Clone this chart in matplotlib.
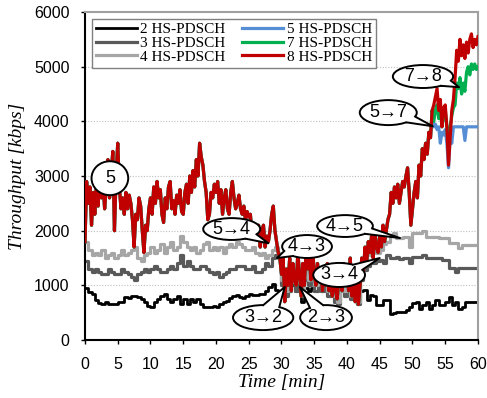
import math

import matplotlib
matplotlib.use("Agg")
import matplotlib.pyplot as plt
from matplotlib.patches import Ellipse, Polygon
from matplotlib.lines import Line2D

# ---- data (kbps) ----
# red / 8 HS-PDSCH, every 0.25 min from 0 to 60
red = [
    1800, 2900, 2500, 2800, 2100, 2700, 2300, 2850, 2450, 3000, 2600, 2900, 2400, 2800, 3300, 2600, 3050, 3450, 2000, 3000,
    3600, 2800, 2400, 2600, 2300, 2700, 2400, 2650, 2500, 2200, 1700, 2300, 2200, 2600, 2450, 2000, 1600, 2100, 2000, 2400,
    2600, 2300, 2800, 2500, 2900, 2600, 2750, 2300, 2150, 2600, 2400, 2800, 2900, 2400, 2550, 2300, 2650, 2500, 2750, 2350,
    2300, 2700, 2850, 2500, 3000, 2700, 3100, 2800, 3300, 3000, 3600, 3350, 3200, 2900, 2700, 2200, 2300, 2700, 2600, 2850,
    2700, 2900, 2500, 2750, 2300, 2600, 2750, 2400, 2300, 2700, 2900, 2600, 2400, 2500, 2650, 2400, 2300, 2450, 2200, 2350,
    2250, 2300, 1900, 2100, 2000, 1850, 2100, 1700, 2000, 2100, 1700, 1900, 1800, 2000, 2300, 2450, 2000, 1800, 1600, 1500,
    1200, 1500, 700, 1300, 1000, 1500, 900, 1400, 1100, 1000, 1600, 1200, 800, 1400, 1000, 1600, 1300, 1500, 1100, 1700,
    1200, 1000, 1400, 1100, 1300, 900, 1200, 1000, 1400, 900, 1100, 800, 1300, 900, 750, 1100, 1300, 900, 1400, 1000,
    1200, 900, 1500, 800, 1300, 700, 1100, 650, 1000, 1500, 1200, 1700, 1400, 1800, 1600, 1900, 1500, 2000, 1700, 1600,
    1900, 1700, 2100, 1800, 2000, 2200, 2300, 2700, 2500, 2800, 2600, 2850, 2500, 2700, 2900, 2800, 3000, 3150, 2700, 2100,
    2400, 2700, 2900, 2600, 3200, 3000, 3500, 3300, 3600, 3400, 3800, 3700, 4200, 4300, 4450, 4600, 4200, 4400, 3900, 4250,
    4300, 3900, 3200, 3700, 4200, 4400, 4800, 5300, 5100, 5500, 5200, 5400, 5150, 5450, 5250, 5500, 5600, 5350, 5500, 5400,
    5550,
]
t_fine = [i * 0.25 for i in range(len(red))]

# 7 and 5 HS-PDSCH follow the red trace until ~53 min, then split off
green_tail = [4000, 4200, 4300, 4050, 4200, 3900, 4100, 4200, 3900, 3500, 3900, 4100, 4250, 4300,
              4700, 4600, 4800, 4500, 4700, 4550, 4900, 5000, 4850, 5050, 4950, 5050, 4950, 5000]
blue_tail = [3900, 3950, 3850, 3900, 3600, 3800, 3750, 3850, 3600, 3150, 3700, 3600, 3900, 3900,
             3900, 3900, 3900, 3900, 3900, 3650, 3900, 3900, 3900, 3900, 3900, 3900, 3900, 3900]
green = red[:213] + green_tail
blue = red[:213] + blue_tail

# 4 / 3 / 2 HS-PDSCH, every 0.5 min
gray4 = [
    1800, 1650, 1550, 1600, 1550, 1650, 1500, 1550, 1600, 1500,
    1550, 1650, 1550, 1600, 1650, 1700, 1500, 1450, 1550, 1600,
    1700, 1600, 1650, 1750, 1600, 1700, 1800, 1650, 1700, 1900,
    1800, 1700, 1650, 1700, 1600, 1650, 1750, 1800, 1650, 1700,
    1650, 1700, 1600, 1700, 1750, 1700, 1800, 1750, 1700, 1650,
    1650, 1700, 1600, 1550, 1600, 1500, 1550, 1650, 1700, 1600,
    1100, 900, 1000, 1300, 1100, 1200, 900, 1300, 1100, 1300,
    1000, 1200, 1000, 1100, 900, 1200, 800, 700, 1100, 900,
    1000, 800, 1100, 700, 1300, 1500, 1700, 1550, 1650, 1600,
    1650, 1750, 1800, 1920, 1950, 1860, 1860, 1880, 1890, 1700,
    1950, 1950, 1950, 2000, 1890, 1890, 1890, 1890, 1860, 1860,
    1860, 1770, 1770, 1770, 1680, 1740, 1740, 1740, 1740, 1740,
    1740,
]
gray3 = [
    1450, 1300, 1250, 1300, 1250, 1200, 1200, 1300, 1250, 1200,
    1200, 1300, 1250, 1200, 1150, 1100, 1200, 1250, 1300, 1250,
    1300, 1350, 1300, 1250, 1250, 1300, 1350, 1300, 1400, 1550,
    1350, 1450, 1350, 1300, 1300, 1350, 1350, 1300, 1250, 1200,
    1250, 1150, 1200, 1250, 1300, 1300, 1350, 1350, 1350, 1300,
    1300, 1350, 1250, 1250, 1300, 1400, 1350, 1500, 1550, 1500,
    1000, 800, 900, 1100, 900, 1000, 800, 1100, 1000, 1200,
    900, 1100, 900, 1000, 800, 1000, 700, 650, 1000, 800,
    900, 750, 1000, 650, 1100, 1280, 1350, 1400, 1400, 1450,
    1460, 1400, 1550, 1500, 1500, 1520, 1480, 1500, 1500, 1400,
    1520, 1520, 1520, 1550, 1500, 1500, 1500, 1500, 1500, 1460,
    1460, 1310, 1310, 1250, 1310, 1310, 1310, 1310, 1310, 1310,
    1310,
]
black2 = [
    950, 880, 850, 730, 670, 650, 700, 650, 650, 660,
    700, 690, 790, 760, 800, 800, 780, 750, 700, 620,
    610, 700, 750, 800, 850, 750, 700, 750, 800, 650,
    750, 650, 750, 700, 750, 650, 600, 600, 600, 620,
    600, 650, 700, 720, 760, 800, 820, 780, 760, 800,
    850, 820, 820, 850, 850, 900, 970, 1030, 910, 900,
    850, 900, 950, 1000, 900, 980, 700, 950, 900, 950,
    900, 950, 900, 1000, 950, 900, 950, 900, 1000, 900,
    950, 900, 1000, 950, 900, 910, 730, 820, 800, 640,
    640, 730, 730, 470, 500, 520, 520, 520, 550, 600,
    670, 700, 560, 640, 700, 560, 640, 730, 640, 640,
    700, 790, 640, 700, 560, 600, 700, 700, 700, 700,
    700,
]
t_half = [i * 0.5 for i in range(len(gray4))]

# speech-bubble callouts: label, centre (min, kbps), size (min, kbps), tail tip
callouts = [
    ("5", (3.8, 2960), (5.6, 620), None),
    ("5\u21924", (22.4, 2030), (8.7, 400), (28.0, 1770)),
    ("4\u21923", (33.9, 1710), (7.6, 420), (29.3, 1500)),
    ("3\u21922", (27.2, 410), (9.2, 457), (30.5, 970)),
    ("2\u21923", (36.8, 410), (7.9, 457), (32.8, 970)),
    ("3\u21924", (38.8, 1190), (7.9, 440), (45.0, 1500)),
    ("4\u21925", (39.7, 2085), (8.5, 400), (48.1, 1865)),
    ("5\u21927", (46.3, 4160), (8.7, 457), (53.1, 3910)),
    ("7\u21928", (51.6, 4820), (9.2, 420), (57.1, 4625)),
]

SANS = "Liberation Sans"
SERIF = "Liberation Serif"


def bubble(ax, text, c, size, tip):
    cx, cy = c
    w, h = size
    ax.add_patch(Ellipse((cx, cy), w, h, fc="white", ec="black", lw=1.4, zorder=6))
    if tip is not None:
        th = math.atan2((tip[1] - cy) / (h / 2), (tip[0] - cx) / (w / 2))
        d = 0.28
        p1 = (cx + w / 2 * math.cos(th - d), cy + h / 2 * math.sin(th - d))
        p2 = (cx + w / 2 * math.cos(th + d), cy + h / 2 * math.sin(th + d))
        q1 = (cx + 0.8 * (p1[0] - cx), cy + 0.8 * (p1[1] - cy))
        q2 = (cx + 0.8 * (p2[0] - cx), cy + 0.8 * (p2[1] - cy))
        ax.add_patch(Polygon([q1, p1, tip, p2, q2], closed=True, fc="white",
                             ec="none", zorder=7, clip_on=False))
        ax.add_line(Line2D([p1[0], tip[0], p2[0]], [p1[1], tip[1], p2[1]],
                           color="black", lw=1.4, zorder=7, clip_on=False))
    ax.text(cx, cy, text, ha="center", va="center", fontsize=13,
            family=[SANS, "DejaVu Sans"], zorder=8)


fig = plt.figure(figsize=(4.87, 3.98), dpi=100)
ax = fig.add_axes([0.1745, 0.1457, 0.8070, 0.8241])

ax.plot(t_half, black2, color="black", lw=2.0, drawstyle="steps-post", label="2 HS-PDSCH", zorder=2)
ax.plot(t_half, gray3, color="#595959", lw=2.3, drawstyle="steps-post", label="3 HS-PDSCH", zorder=2)
ax.plot(t_half, gray4, color="#A6A6A6", lw=2.3, drawstyle="steps-post", label="4 HS-PDSCH", zorder=2)
ax.plot(t_fine, blue, color="#558ED5", lw=2.3, label="5 HS-PDSCH", zorder=3)
ax.plot(t_fine, green, color="#00B050", lw=2.3, label="7 HS-PDSCH", zorder=3)
ax.plot(t_fine, red, color="#C00000", lw=2.3, label="8 HS-PDSCH", zorder=4)

ax.set_xlim(0, 60)
ax.set_ylim(0, 6000)
ax.set_xticks(range(0, 61, 5))
ax.set_yticks(range(0, 6001, 1000))
for y in range(1000, 6000, 1000):
    ax.axhline(y, color="#BFBFBF", lw=0.8, ls=(0, (1, 1.5)), zorder=1)

for side in ("left", "bottom"):
    ax.spines[side].set_color("black")
    ax.spines[side].set_linewidth(1.5)
for side in ("top", "right"):
    ax.spines[side].set_color("#A0A0A0")
    ax.spines[side].set_linewidth(1.5)
ax.tick_params(axis="x", direction="out", length=3, width=1, pad=9, labelsize=11.5)
ax.tick_params(axis="y", direction="out", length=3, width=1, pad=8, labelsize=11.5)
for lab in ax.get_xticklabels() + ax.get_yticklabels():
    lab.set_fontfamily(SANS)

ax.set_xlabel("Time [min]", fontsize=14, family=SERIF, style="italic", labelpad=2)
ax.set_ylabel("Throughput [kbps]", fontsize=14, family=SERIF, style="italic", labelpad=6)

leg = ax.legend(ncol=2, loc="upper left", bbox_to_anchor=(0.018, 0.979), borderaxespad=0,
                prop={"family": SERIF, "size": 11}, handlelength=2.7, handletextpad=0.2,
                columnspacing=1.1, labelspacing=0.0, borderpad=0.25, fancybox=False,
                framealpha=1, edgecolor="#808080")
leg.get_frame().set_linewidth(1.0)
leg.set_zorder(9)

for text, c, size, tip in callouts:
    bubble(ax, text, c, size, tip)

fig.savefig("out.png", dpi=100)
